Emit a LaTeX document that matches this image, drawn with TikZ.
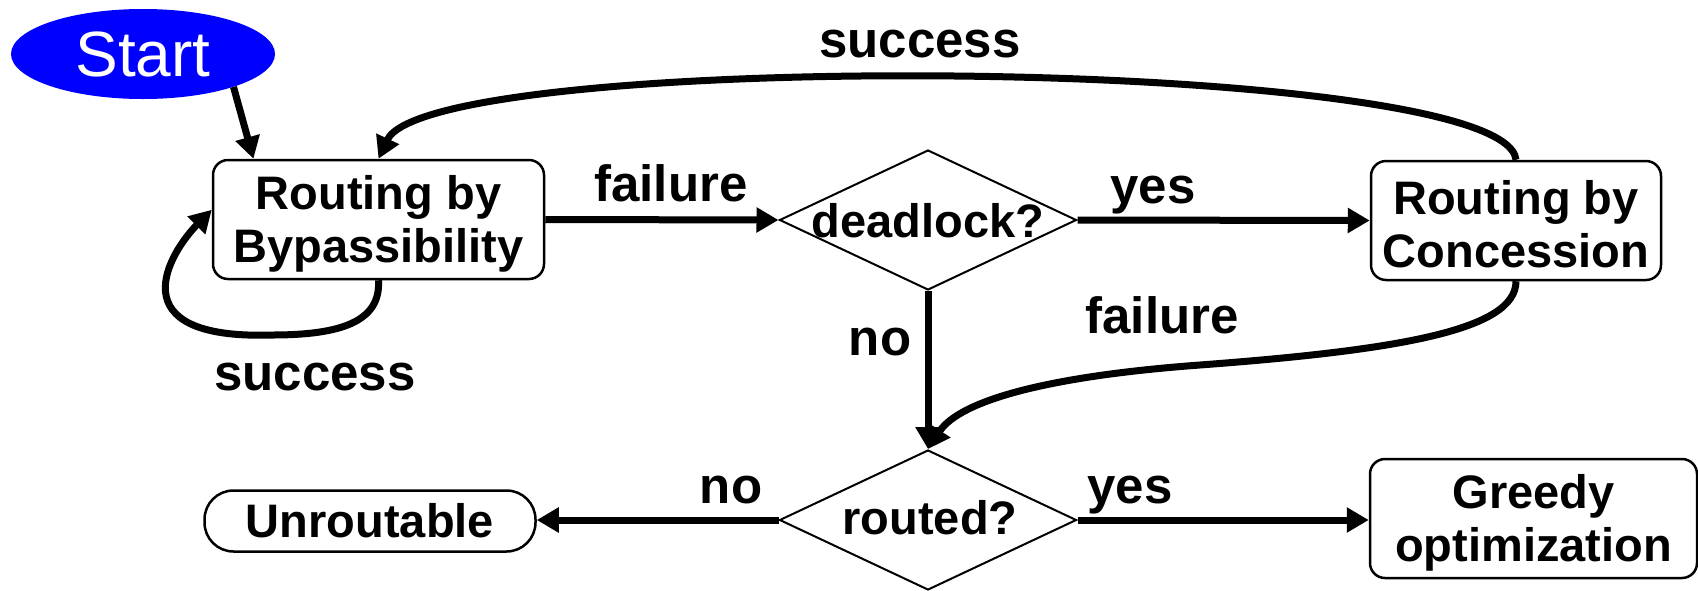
\documentclass[tikz,border=0pt]{standalone}
\usepackage{fontspec}
\setmainfont{Liberation Sans}
\usetikzlibrary{shapes.geometric,arrows.meta,calc}
\definecolor{startblue}{RGB}{0,0,255}
% strut that lowers two-line box text slightly
\newcommand{\toplift}{\rule{0pt}{42pt}}
\begin{document}
\begin{tikzpicture}[x=1pt,y=-1pt,
  boxnode/.style={draw,line width=2.5pt,rounded corners=15pt,inner sep=0pt,align=center,
    font=\fontsize{47}{53}\selectfont\bfseries},
  decision/.style={draw,diamond,line width=2pt,inner sep=0pt,
    minimum width=297pt,minimum height=140pt},
  dtext/.style={font=\fontsize{47}{53}\selectfont\bfseries,inner sep=0pt},
  lbl/.style={font=\fontsize{51}{60}\selectfont\bfseries,inner sep=0pt,anchor=base},
  conn/.style={line width=7pt,-{Triangle[length=22pt,width=24pt]}},
]
\useasboundingbox (0,0) rectangle (1698,590);

% states and decisions
\node[ellipse,fill=startblue,minimum width=264pt,minimum height=90pt,inner sep=0pt,
  text=white,font=\fontsize{64}{70}\selectfont] (st) at (143,54) {Start};
\node[boxnode,minimum width=331pt,minimum height=119pt] (bp) at (378.5,219.5) {\toplift Routing by\\Bypassibility};
\node[boxnode,minimum width=290pt,minimum height=119pt] (cc) at (1516,220.5) {\toplift Routing by\\Concession};
\node[decision] (dl) at (928,220) {};
\node[dtext] (dlt) at (928,221) {deadlock?};
\node[decision] (rt) at (928,520) {};
\node[dtext] (rtt) at (930,518) {routed?};
\node[boxnode,rounded corners=29pt,minimum width=331pt,minimum height=61pt] (un) at (370,521) {Unroutable};
\node[boxnode,minimum width=327pt,minimum height=119pt] (gr) at (1533.5,518.5) {\toplift Greedy\\optimization};

% connectors
\draw[conn] (st.-20) -- ($(bp.north west)!0.125!(bp.north east)$);
\draw[conn] (bp.east) -- (dl.west);
\draw[conn] (dl.east) -- (cc.west);
\draw[conn] (dl.south) -- (rt.north);
\draw[conn] (rt.west) -- (rt.west -| un.east);
\draw[conn] (rt.east) -- (rt.east -| gr.west);
\draw[conn] (cc.north) .. controls (1505,55) and (430,48) .. (bp.north);
\draw[conn] (bp.south) .. controls (381,322) and (340,335) .. (272,335)
  .. controls (115,340) and (170,252) .. ($(bp.north west)!0.42!(bp.south west)$);
\draw[conn] (cc.south) .. controls (1516,330) and (1400,350) .. (1200,365)
  .. controls (1050,376) and (960,400) .. (rt.north);

% connector labels
\node[lbl] (l1) at (920,57) {success};
\node[lbl] (l2) at (671,201) {failure};
\node[lbl] (l3) at (1153,203) {yes};
\node[lbl] (l4) at (880,355) {no};
\node[lbl] (l5) at (1162,333) {failure};
\node[lbl] (l6) at (315,390) {success};
\node[lbl] (l7) at (731,503) {no};
\node[lbl] (l8) at (1130,503) {yes};
\end{tikzpicture}
\end{document}
